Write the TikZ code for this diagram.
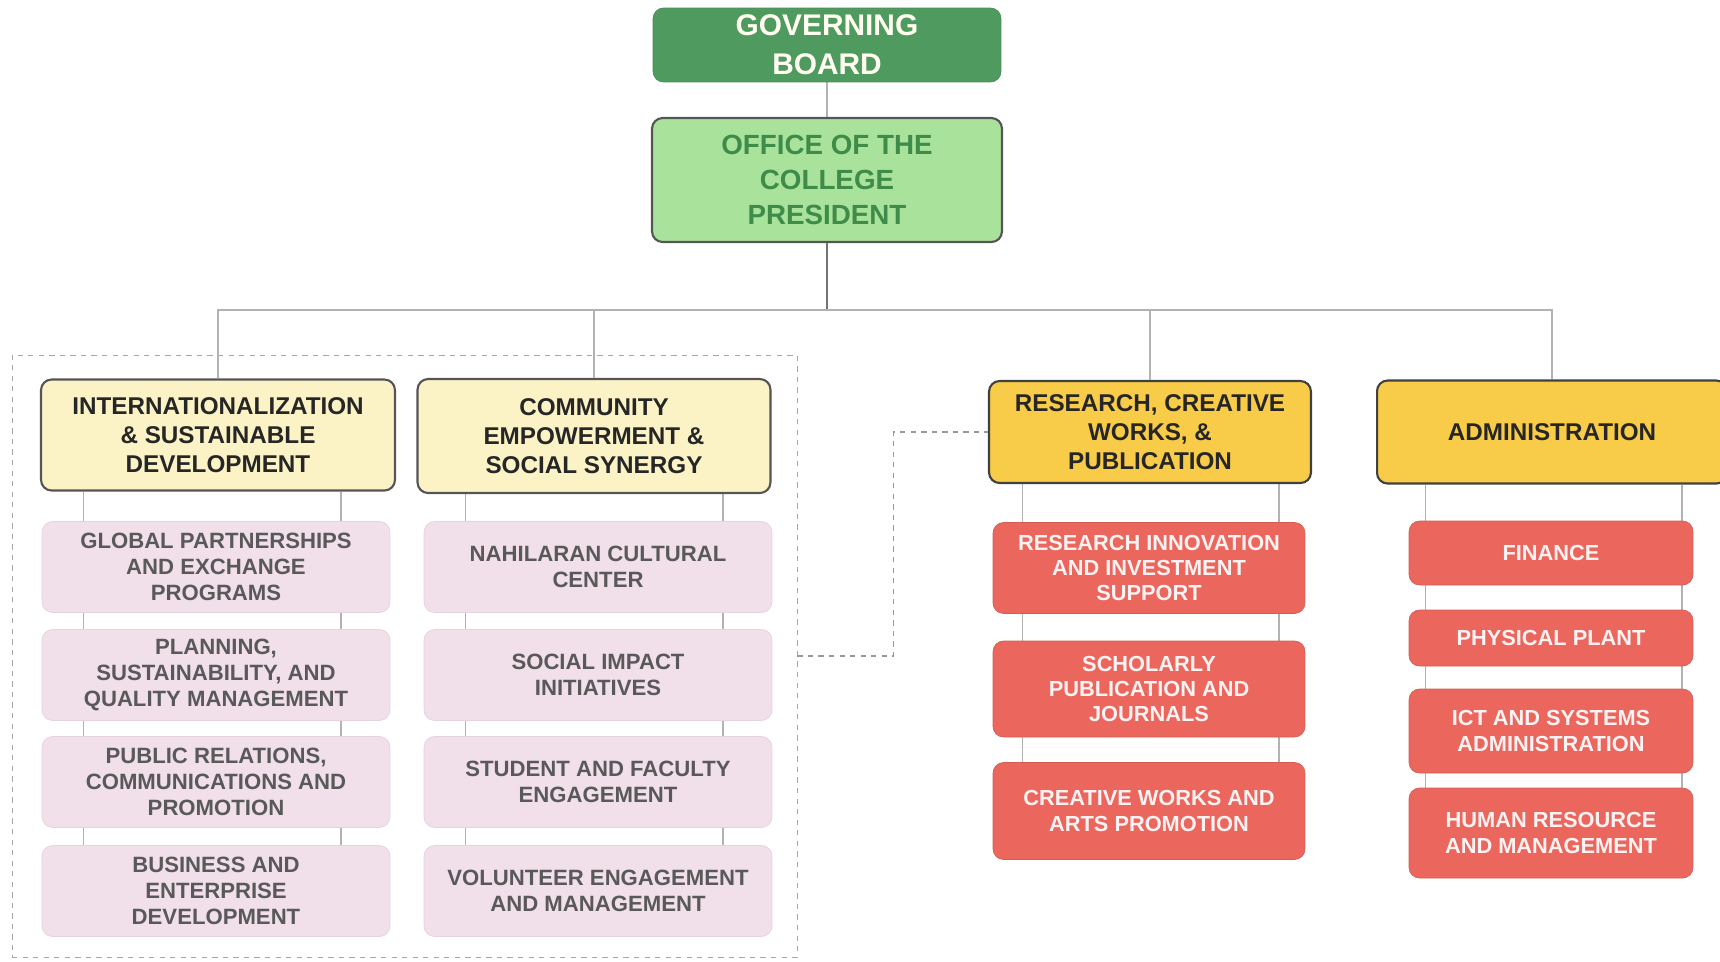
\documentclass[tikz,border=0pt]{standalone}
\usepackage{fontspec}
\setmainfont{Liberation Sans}
\usetikzlibrary{backgrounds,fit}

\definecolor{boardgreen}{HTML}{4F9A5E}
\definecolor{officegreen}{HTML}{A9E29B}
\definecolor{officetext}{HTML}{3F8C4A}
\definecolor{paleyellow}{HTML}{FBF3C6}
\definecolor{gold}{HTML}{F8CC48}
\definecolor{palepink}{HTML}{F1DFE9}
\definecolor{pinkedge}{HTML}{E6D3DE}
\definecolor{unitred}{HTML}{EB675E}
\definecolor{edgegray}{HTML}{555555}

\begin{document}
\begin{tikzpicture}[x=0.02cm,y=-0.02cm,
	box/.style={rectangle,rounded corners=6pt,align=center,inner sep=0pt},
	board/.style={box,fill=boardgreen,draw=boardgreen!90!black,text=white!94!yellow,
		font=\fontsize{17}{22}\selectfont\bfseries,minimum width=6.96cm,minimum height=1.48cm},
	office/.style={box,fill=officegreen,draw=edgegray,line width=1.2pt,text=officetext,
		font=\fontsize{15.8}{20}\selectfont\bfseries},
	head/.style={box,fill=paleyellow,draw=edgegray,line width=1.2pt,text=black!85,
		font=\fontsize{13.8}{16.5}\selectfont\bfseries},
	mainhead/.style={head,fill=gold,draw=black!75},
	sub/.style={box,fill=palepink,draw=pinkedge,text=black!65,
		font=\fontsize{12.6}{14.8}\selectfont\bfseries,minimum width=6.96cm,minimum height=1.82cm},
	unit/.style={box,fill=unitred,draw=unitred!90!black,text=white!95!red,
		font=\fontsize{12.4}{14.5}\selectfont\bfseries},
	link/.style={draw=black!30,line width=0.6pt},
	dashlink/.style={draw=black!40,dashed,line width=0.6pt}]
	\useasboundingbox (0,0) rectangle (1720,961);
	%
	\node[board] (gov) at (827,45) {GOVERNING\\BOARD};
	\node[office,minimum width=7cm,minimum height=2.48cm] (pres) at (827,180) {OFFICE OF THE\\COLLEGE\\PRESIDENT};
	%
	\node[head,minimum width=7.08cm,minimum height=2.22cm] (intl) at (218,435) {INTERNATIONALIZATION\\\& SUSTAINABLE\\DEVELOPMENT};
	\node[head,minimum width=7.06cm,minimum height=2.28cm] (comm) at (594,436) {COMMUNITY\\EMPOWERMENT \&\\SOCIAL SYNERGY};
	\node[mainhead,minimum width=6.44cm,minimum height=2.04cm] (rcw) at (1150,432) {RESEARCH, CREATIVE\\WORKS, \&\\PUBLICATION};
	\node[mainhead,minimum width=7cm,minimum height=2.06cm] (admin) at (1552,432) {ADMINISTRATION};
	%
	\node[sub] (i1) at (216,567) {GLOBAL PARTNERSHIPS\\AND EXCHANGE\\PROGRAMS};
	\node[sub] (i2) at (216,675) {PLANNING,\\SUSTAINABILITY, AND\\QUALITY MANAGEMENT};
	\node[sub] (i3) at (216,782) {PUBLIC RELATIONS,\\COMMUNICATIONS AND\\PROMOTION};
	\node[sub] (i4) at (216,891) {BUSINESS AND\\ENTERPRISE\\DEVELOPMENT};
	%
	\node[sub] (c1) at (598,567) {NAHILARAN CULTURAL\\CENTER};
	\node[sub] (c2) at (598,675) {SOCIAL IMPACT\\INITIATIVES};
	\node[sub] (c3) at (598,782) {STUDENT AND FACULTY\\ENGAGEMENT};
	\node[sub] (c4) at (598,891) {VOLUNTEER ENGAGEMENT\\AND MANAGEMENT};
	%
	\node[unit,minimum width=6.24cm,minimum height=1.82cm] (r1) at (1149,568) {RESEARCH INNOVATION\\AND INVESTMENT\\SUPPORT};
	\node[unit,minimum width=6.24cm,minimum height=1.92cm] (r2) at (1149,689) {SCHOLARLY\\PUBLICATION AND\\JOURNALS};
	\node[unit,minimum width=6.24cm,minimum height=1.94cm] (r3) at (1149,811) {CREATIVE WORKS AND\\ARTS PROMOTION};
	%
	\node[unit,minimum width=5.68cm,minimum height=1.28cm] (a1) at (1551,553) {FINANCE};
	\node[unit,minimum width=5.68cm,minimum height=1.12cm] (a2) at (1551,638) {PHYSICAL PLANT};
	\node[unit,minimum width=5.68cm,minimum height=1.68cm] (a3) at (1551,731) {ICT AND SYSTEMS\\ADMINISTRATION};
	\node[unit,minimum width=5.68cm,minimum height=1.8cm] (a4) at (1551,833) {HUMAN RESOURCE\\AND MANAGEMENT};
	%
	\coordinate (gtl) at (12,355);
	\coordinate (gbr) at (797,957);
	\node[fit=(gtl)(gbr),inner sep=0pt,draw=black!35,dashed] (group) {};
	\draw[dashlink] (group.east) -- ++(96,0) |- (rcw.west);
	%
	\coordinate (bus) at (827,310);
	\draw[link,draw=black!55] (pres.south) -- (bus);
	\draw[link] (intl.north) |- (bus) -| (admin.north);
	\draw[link] (comm.north) -- (comm.north |- bus);
	\draw[link] (rcw.north) -- (rcw.north |- bus);
	%
	\begin{scope}[on background layer]
		\draw[link] (gov) -- (pres);
		\foreach \h/\b/\l/\r in {intl/i4/-2.66/2.5, comm/c4/-2.66/2.5, rcw/r3/-2.54/2.6, admin/a4/-2.52/2.62}{
			\path ([xshift=\l cm]\b.north) coordinate (p) ([xshift=\r cm]\b.north) coordinate (q);
			\draw[link] (p) -- (p |- \h.south) (q) -- (q |- \h.south);
		}
	\end{scope}
\end{tikzpicture}
\end{document}
